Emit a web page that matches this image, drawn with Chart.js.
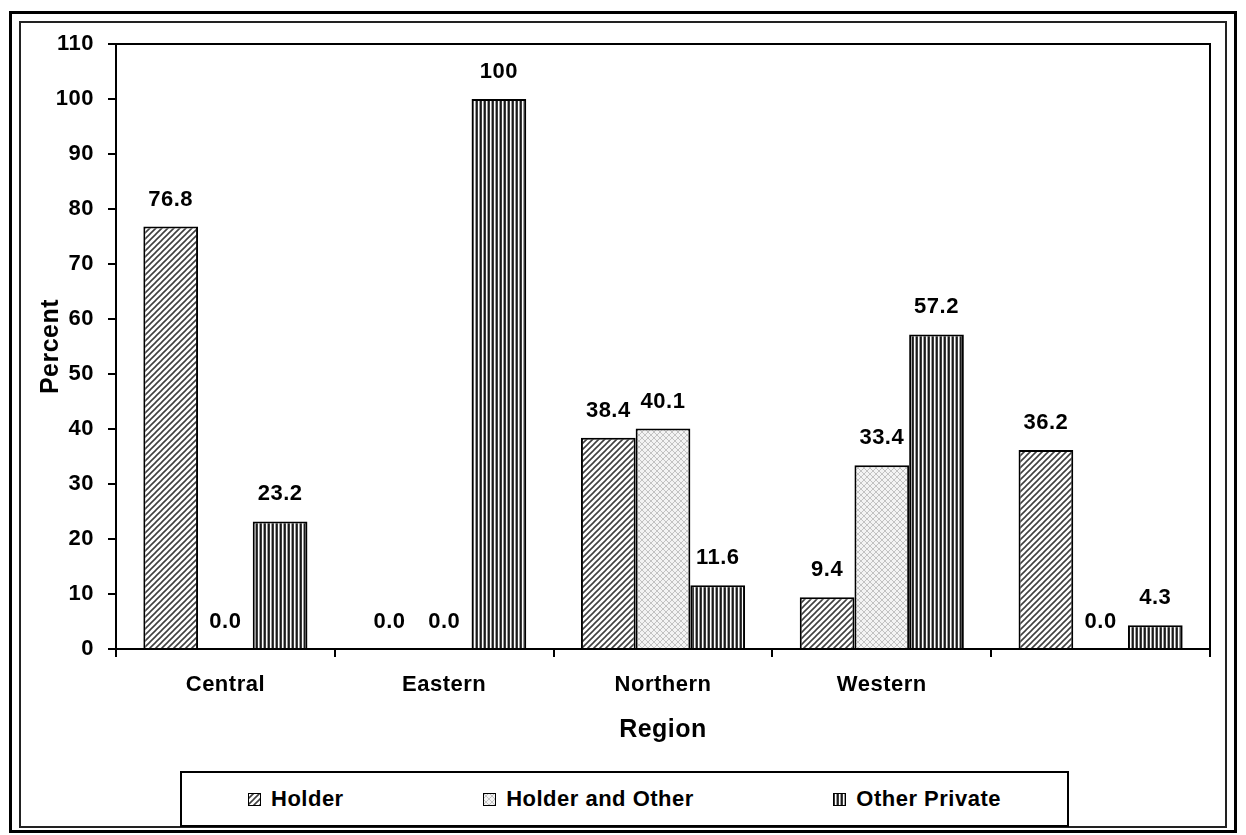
<!DOCTYPE html>
<html>
<head>
<meta charset="utf-8">
<script src="https://cdn.jsdelivr.net/npm/chart.js@4.4.1/dist/chart.umd.min.js"></script>
<style>
  html, body { margin: 0; padding: 0; background: #fff; }
  body { width: 1246px; height: 835px; position: relative; overflow: hidden;
         font-family: "Liberation Sans", Arial, sans-serif; }
  #outer { position: absolute; left: 9px; top: 11px; width: 1222px; height: 816px; border: 3px solid #000; }
  #inner { position: absolute; left: 19px; top: 21px; width: 1204px; height: 803px; border: 2px solid #222; }
  #chart { position: absolute; left: 0; top: 0; }
  #legend { position: absolute; left: 180px; top: 771px; width: 889px; height: 56px; box-sizing: border-box;
            border: 2px solid #000; background: #fff; display: flex; align-items: center;
            justify-content: space-between; padding: 0 66px; }
  .item { display: flex; align-items: center; font-weight: bold; font-size: 22px; letter-spacing: 0.5px; color: #000; }
  .item canvas { width: 13px; height: 13px; margin-right: 10px; }
</style>
</head>
<body>
<div id="outer"></div>
<div id="inner"></div>
<canvas id="chart" width="1246" height="835"></canvas>
<div id="legend"></div>
<script>
const categories = ['Central', 'Eastern', 'Northern', 'Western', ''];
const seriesNames = ['Holder', 'Holder and Other', 'Other Private'];
const holder = [76.8, 0.0, 38.4, 9.4, 36.2];
const holderAndOther = [0.0, 0.0, 40.1, 33.4, 0.0];
const otherPrivate = [23.2, 100, 11.6, 57.2, 4.3];
const yMin = 0;
const yMax = 110;
const yStep = 10;

const fontFamily = '"Liberation Sans", Arial, sans-serif';
Chart.defaults.font.family = fontFamily;
Chart.defaults.color = '#000';

// small tiles for the fill patterns
function makeTile(size, draw) {
    const c = document.createElement('canvas');
    c.width = size;
    c.height = size;
    draw(c.getContext('2d'), size);
    return c;
}

const diagTile = makeTile(6, (g, s) => {
    g.fillStyle = '#fff';
    g.fillRect(0, 0, s, s);
    g.strokeStyle = '#404040';
    g.lineWidth = 1.6;
    g.beginPath();
    g.moveTo(-1, s + 1); g.lineTo(s + 1, -1);
    g.moveTo(-1, 1); g.lineTo(1, -1);
    g.moveTo(s - 1, s + 1); g.lineTo(s + 1, s - 1);
    g.stroke();
});

const latticeTile = makeTile(6, (g, s) => {
    g.fillStyle = '#f3f3f3';
    g.fillRect(0, 0, s, s);
    g.strokeStyle = '#c2c2c2';
    g.lineWidth = 1;
    g.beginPath();
    g.moveTo(0, 0); g.lineTo(s, s);
    g.moveTo(0, s); g.lineTo(s, 0);
    g.stroke();
});

const stripeTile = makeTile(4, (g) => {
    ['#1a1a1a', '#3a3a3a', '#ffffff', '#9a9a9a'].forEach((col, i) => {
        g.fillStyle = col;
        g.fillRect(i, 0, 1, 4);
    });
});

const ctx = document.getElementById('chart').getContext('2d');
const fills = [diagTile, latticeTile, stripeTile].map(t => ctx.createPattern(t, 'repeat'));

const formatValue = v => (v === 100 ? '100' : v.toFixed(1));

const spacing = {
    id: 'spacing',
    beforeLayout(chart) { chart.ctx.letterSpacing = '0.5px'; },
    beforeDraw(chart) { chart.ctx.letterSpacing = '0.5px'; }
};

const plotBorder = {
    id: 'plotBorder',
    afterDraw(chart) {
        const { left, top, width, height } = chart.chartArea;
        const c = chart.ctx;
        c.save();
        c.strokeStyle = '#000';
        c.lineWidth = 2;
        c.strokeRect(left, top, width, height);
        c.restore();
    }
};

const valueLabels = {
    id: 'valueLabels',
    afterDatasetsDraw(chart) {
        const c = chart.ctx;
        c.save();
        c.font = 'bold 22px ' + fontFamily;
        c.fillStyle = '#000';
        c.textAlign = 'center';
        c.textBaseline = 'middle';
        chart.data.datasets.forEach((ds, i) => {
            chart.getDatasetMeta(i).data.forEach((bar, j) => {
                c.fillText(formatValue(ds.data[j]), bar.x, bar.y - 27);
            });
        });
        c.restore();
    }
};

const seriesData = [holder, holderAndOther, otherPrivate];

const chart = new Chart(ctx, {
    type: 'bar',
    data: {
        labels: categories,
        datasets: seriesNames.map((name, i) => ({
            label: name,
            data: seriesData[i],
            backgroundColor: fills[i],
            borderColor: '#000',
            borderWidth: 2,
            categoryPercentage: 0.75,
            barPercentage: 1,
        })),
    },
    options: {
        responsive: false,
        animation: false,
        devicePixelRatio: 1,
        layout: { padding: { left: 0, top: 44, right: 36, bottom: 86 } },
        plugins: {
            legend: { display: false },
            tooltip: { enabled: false },
        },
        scales: {
            x: {
                ticks: { color: '#000', font: { size: 22, weight: 'bold' }, padding: 15 },
                grid: { drawOnChartArea: false, offset: true, tickLength: 8, color: '#000', lineWidth: 2 },
                border: { display: true, color: '#000', width: 2 },
                title: {
                    display: true,
                    text: 'Region',
                    color: '#000',
                    font: { size: 25, weight: 'bold' },
                    padding: { top: 0, bottom: 4 },
                },
                afterFit: scale => { scale.height = 100; },
            },
            y: {
                min: yMin,
                max: yMax,
                ticks: { stepSize: yStep, color: '#000', font: { size: 22, weight: 'bold' }, padding: 14 },
                grid: { drawOnChartArea: false, tickLength: 8, color: '#000', lineWidth: 2 },
                border: { display: true, color: '#000', width: 2 },
                title: {
                    display: true,
                    text: 'Percent',
                    color: '#000',
                    font: { size: 25, weight: 'bold' },
                    padding: { top: 36, bottom: 0 },
                },
                afterFit: scale => { scale.width = 116; },
            },
        },
    },
    plugins: [spacing, valueLabels, plotBorder],
});

// legend in a bordered box under the chart
const legendBox = document.getElementById('legend');
chart.data.datasets.forEach(ds => {
    const item = document.createElement('div');
    item.className = 'item';
    const sw = document.createElement('canvas');
    sw.width = 13;
    sw.height = 13;
    const g = sw.getContext('2d');
    g.fillStyle = ds.backgroundColor;
    g.fillRect(0, 0, 13, 13);
    g.strokeStyle = '#000';
    g.lineWidth = 1;
    g.strokeRect(0.5, 0.5, 12, 12);
    item.appendChild(sw);
    const label = document.createElement('span');
    label.textContent = ds.label;
    item.appendChild(label);
    legendBox.appendChild(item);
});
</script>
</body>
</html>
